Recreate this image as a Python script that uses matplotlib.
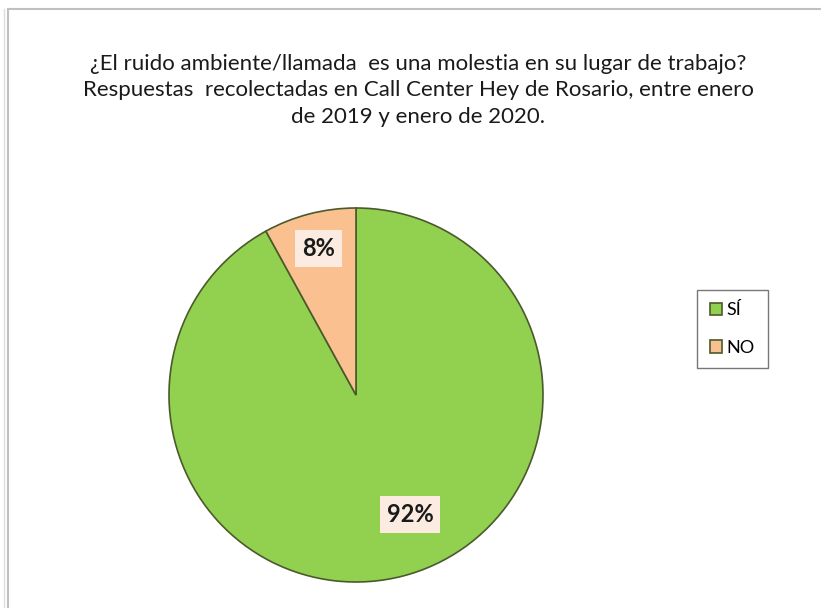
import matplotlib.pyplot as plt
from matplotlib.lines import Line2D

labels = ['SÍ', 'NO']
values = [92, 8]
colors = ['#92D050', '#FAC090']

title = ('¿El ruido ambiente/llamada  es una molestia en su lugar de trabajo?\n'
         'Respuestas  recolectadas en Call Center Hey de Rosario, entre enero\n'
         'de 2019 y enero de 2020.')

W, H = 821, 608
fig = plt.figure(figsize=(W / 100, H / 100), dpi=100)
fig.patch.set_facecolor('white')

# chart area frame
fig.add_artist(Line2D([8 / W, 8 / W], [0, 1 - 9 / H], color='#c0c0c0', lw=1.5))
fig.add_artist(Line2D([4 / W, 4 / W], [0, 1 - 9 / H], color='#dddddd', lw=1))
fig.add_artist(Line2D([8 / W, 1], [1 - 9 / H, 1 - 9 / H], color='#c0c0c0', lw=1.5))

fig.text(418 / W, 1 - 54 / H, title, ha='center', va='top', fontsize=16,
         family='Lato', color='#1a1a1a', linespacing=1.4)

# pie axes centred at (356, 395) px with radius ~187 px
r = 187
cx, cy = 356, 395
ax = fig.add_axes([(cx - r) / W, 1 - (cy + r) / H, 2 * r / W, 2 * r / H])
wedges, texts, autotexts = ax.pie(
    values, colors=colors, startangle=90, counterclock=False,
    autopct='%1.0f%%', pctdistance=0.81, radius=1,
    wedgeprops=dict(edgecolor='#4a5a2a', linewidth=1.2),
    textprops=dict(fontsize=17, fontweight='bold', family='Lato', color='#1a1a1a'))
for t in autotexts:
    t.set_bbox(dict(facecolor='#FBEBE0', edgecolor='none', pad=5))
# the big slice's label sits nearer the middle, to the right
autotexts[0].set_position((0.29, -0.64))
ax.set_xlim(-1, 1)
ax.set_ylim(-1, 1)
ax.set_aspect('equal')

leg = ax.legend(wedges, labels, loc='center left', borderaxespad=0,
                bbox_to_anchor=(697 / W, 1 - 329 / H), bbox_transform=fig.transFigure,
                frameon=True, fancybox=False, handlelength=0.7, handleheight=0.7,
                handletextpad=0.25, labelspacing=1.2, borderpad=0.7,
                prop=dict(family='Lato', size=13))
leg.get_frame().set_edgecolor('#555555')
leg.get_frame().set_linewidth(1)

fig.savefig('out.png', dpi=100, facecolor='white')
